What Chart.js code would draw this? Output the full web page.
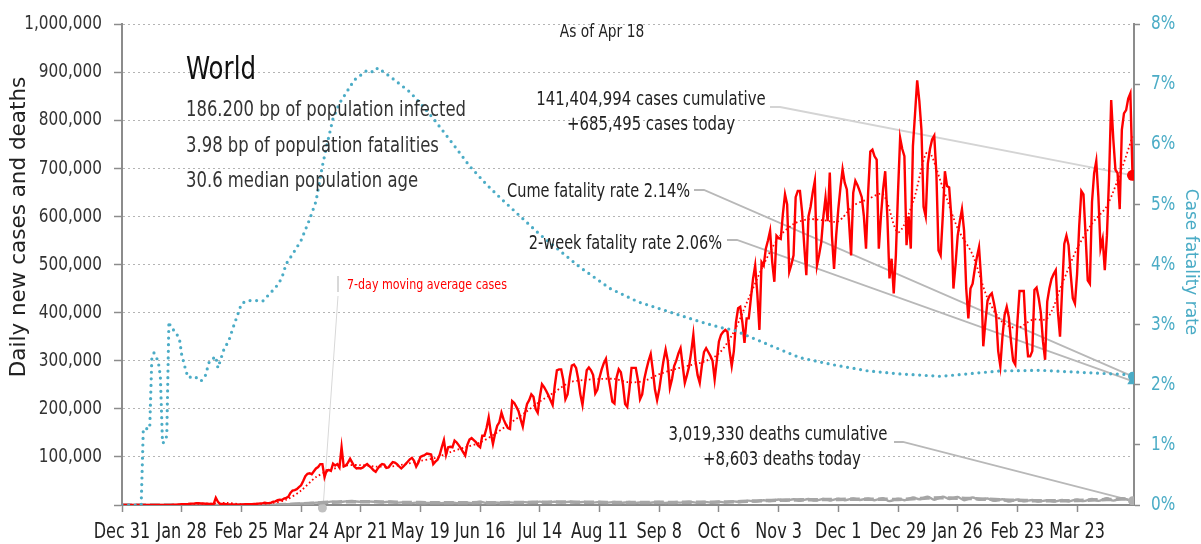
<!DOCTYPE html>
<html><head><meta charset="utf-8">
<script src="https://cdn.jsdelivr.net/npm/chart.js@4.4.0/dist/chart.umd.min.js"></script>
<style>html,body{margin:0;padding:0;background:#fff;overflow:hidden}canvas{display:block}</style>
</head><body>
<canvas id="c" width="1201" height="544"></canvas>
<script>
// ---------- DATA ----------
// x axis: days since Dec 31, 2019
const tickDays = [0,28,56,84,112,140,168,196,224,252,280,308,336,364,392,420,448];
const tickLabels = ['Dec 31','Jan 28','Feb 25','Mar 24','Apr 21','May 19','Jun 16','Jul 14','Aug 11','Sep 8','Oct 6','Nov 3','Dec 1','Dec 29','Jan 26','Feb 23','Mar 23'];

// daily new cases (thousands), one value per day from Dec 31
const casesK = [
0,0,0,0,0,0,0,0,0,0,0,0,0,0,0,0,0,0,0,0,0,
0.1,0.3,0.3,0.5,0.7,0.8,1.4,1.8,1.5,1.8,2.1,2.6,2.8,3.2,
3.9,3.7,3.2,3.4,2.7,2.6,2.1,2.0,2.0,
15.1,
6.5,2.2,2.1,2.0,1.8,0.6,1.0,0.9,0.5,0.6,0.8,
0.9,1.2,1.5,1.8,1.6,1.8,2.2,
2.5,2.9,3.5,4.0,4.6,4.0,3.9,
5,7,7.5,10,11,10.5,13.5,15,17,25,
30,31,33,37,41,50,60,65,66,64,
70,76,79,85,85,58,72,73,71,86,
82,85,78,120,80,82,88,96,88,80,
76,77,76,78,82,85,81,77,72,69,
76,82,85,84,77,78,84,89,88,85,
80,76,80,85,90,95,98,92,80,88,
100,102,104,107,106,105,85,90,94,104,
120,135,104,120,121,120,134,130,124,117,
110,103,125,136,139,135,131,124,120,144,
144,160,182,150,127,148,165,172,192,178,
168,160,158,216,212,204,195,178,163,190,
210,218,230,225,200,192,225,251,245,237,
228,218,208,248,280,282,282,260,220,230,
265,290,292,285,262,230,208,245,280,286,
280,270,232,240,265,282,295,304,270,244,
215,211,265,282,276,250,210,204,240,285,
285,285,260,220,230,262,282,300,314,280,
240,218,240,271,300,323,300,244,262,289,
300,315,326,290,254,270,288,318,354,300,
270,254,290,318,326,318,310,300,261,300,
340,354,360,364,360,320,289,320,380,409,
412,380,337,388,388,430,470,498,440,364,
505,498,533,550,570,505,464,560,555,553,
605,646,625,485,500,519,640,653,653,610,
540,478,600,620,650,674,498,520,546,600,
639,590,691,560,491,560,615,660,698,670,
656,590,519,649,674,665,653,640,600,533,
650,735,739,725,718,533,600,656,694,600,
471,512,440,519,650,763,740,725,540,600,
533,746,814,883,840,780,620,600,710,740,
760,768,690,529,519,600,694,663,660,600,
450,500,560,590,615,570,450,388,450,460,
490,515,536,470,330,380,425,435,440,420,
395,320,289,350,395,412,390,340,300,292,
380,445,445,445,360,309,309,320,447,452,
430,400,340,302,423,450,470,480,488,402,
350,450,543,560,540,480,430,419,480,580,
653,646,560,467,460,630,690,715,640,533,
553,488,560,680,842,760,697,690,615,780,
814,821,845,856,685.495
];

// 7-day moving average of cases (thousands), read weekly
const maDays = [0,21,28,35,42,49,56,63,70,77,84,91,98,105,112,119,126,133,140,147,154,161,168,175,182,189,196,203,210,217,224,231,238,245,252,259,266,273,280,287,294,301,308,315,322,329,336,343,350,357,364,371,378,385,392,399,406,413,420,427,434,441,448,455,462,469,474];
const maK = [0,0.1,0.9,2.5,2.8,4.5,1.5,1.8,4.2,11,30,58,73,82,83,80,80,85,92,98,110,120,130,148,170,192,215,235,255,260,262,262,255,258,272,282,290,298,315,360,430,500,556,584,594,592,590,622,636,646,567,629,735,660,575,520,430,380,368,385,388,460,533,585,622,700,766];

// daily deaths (thousands)
const deathDays = [0,40,63,70,77,80,84,87,91,94,98,101,105,108,112,115,119,122,126,129,133,136,140,143,147,150,154,157,161,164,168,171,175,178,182,185,189,192,196,199,203,206,210,213,217,220,224,227,231,234,238,241,245,248,252,255,259,262,266,269,273,276,280,283,287,290,294,297,301,304,308,311,315,318,322,325,329,332,336,339,343,346,350,353,357,360,364,367,371,374,378,381,385,388,392,395,399,402,406,409,413,416,420,423,427,430,434,437,441,444,448,451,455,458,462,465,469,471,474];
const deathK = [0,0.1,0.2,0.4,1.5,2,3,3.5,5,4.5,7,6,7.5,8.3,6.5,7.5,6.5,5.5,7,5,6,4,6,4.2,5.5,3.8,5.5,3.8,5.2,4,6.9,4,5.3,4.2,5.5,4.6,6,4.5,7,5,6.8,5.2,6.9,5,6.5,4.6,6.2,4.8,6.3,4.5,6.1,4.5,6,4.8,6.5,4.2,6,5,6.8,5,6.5,5.2,6.7,5.5,7.5,6,9,7,10,8,11.5,8.5,12,8.5,12.5,9,12.5,9.5,13,10,13.5,10.5,13.5,10,14,8,13,10,15.5,12,17,11,17.5,12.5,16.5,10,15.5,11,13.5,8.5,12,7,11.5,7.5,10.5,7,10,7,10.5,7.5,11.5,8,12.5,8.5,14,9,14,12,8.603];

// 7-day moving average of deaths (thousands)
const deathMaDays = [0,63,77,84,91,98,105,112,119,126,133,140,147,154,161,168,175,182,189,196,203,210,217,224,231,238,245,252,259,266,273,280,287,294,301,308,315,322,329,336,343,350,357,364,371,378,385,392,399,406,413,420,427,434,441,448,455,462,469,474];
const deathMaK = [0,0.1,0.8,2.2,4,5.8,6.8,7,6.5,6,5.3,5,4.7,4.6,4.6,5,4.8,5,5.3,5.8,6,6,5.8,5.5,5.4,5.3,5.4,5.5,5.4,5.8,5.9,6,6.6,8,9,10,10.5,11,11.2,11.6,12,12.2,12,11.5,13,14.3,15,14,13.3,12,10.5,9.8,9,8.6,8.8,9.4,10.3,11.3,12.3,12.5];

// case fatality rate (%)
const cfrDays = [0,9,10,13,14,15,17,18,19,20,21,22,23,25,27,28,30,31,34,37,39,41,44,45,46,48,50,52,55,56,59,63,66,70,73,75,77,80,84,88,91,94,96,99,102,109,112,115,118,120,126,135,140,146,156,163,171,178,196,215,229,242,271,281,287,303,318,334,350,365,384,412,431,453,471,474];
const cfrPct = [0,0,1.27,1.27,2.45,2.53,2.39,2.14,1.03,1.05,1.15,3.05,2.94,2.89,2.75,2.5,2.23,2.12,2.14,2.06,2.14,2.39,2.47,2.28,2.39,2.61,2.72,2.94,3.24,3.35,3.40,3.40,3.39,3.54,3.66,3.78,4.01,4.17,4.4,4.75,5.05,5.64,5.97,6.43,6.68,7.07,7.15,7.23,7.2,7.27,7.12,6.87,6.68,6.43,5.97,5.64,5.33,5.09,4.5,3.95,3.6,3.38,3.05,2.95,2.91,2.67,2.45,2.33,2.23,2.18,2.14,2.23,2.24,2.2,2.17,2.14];

// end-of-series values
const lastDay = 474;
const casesToday = 685495;
const casesCumulative = '141,404,994';
const deathsToday = 8603;
const deathsCumulative = '3,019,330';
const cumeCfr = 2.14;
const twoWeekCfr = 2.06;
const maLabelDay = 94;

// texts
const placeName = 'World';
const infoLines = ['186.200 bp of population infected','3.98 bp of population fatalities','30.6 median population age'];
const asOfText = 'As of Apr 18';

// ---------- CHART ----------
const FONT = "'DejaVu Sans Condensed','Liberation Sans Narrow',sans-serif";
const WIDEFONT = "'DejaVu Sans',sans-serif";
Chart.defaults.font.family = FONT;
const RED = '#ff0000', CYAN = '#4bacc6', GRAY = '#a6a6a6', AXIS = '#8c8c8c';

// horizontally condensed text rendering (reference uses a condensed face)
const canvas = document.getElementById('c');
const ctx2d = canvas.getContext('2d');
let condense = 0.85;
const origFill = ctx2d.fillText;
ctx2d.fillText = function (t, x, y, w) {
  this.save(); this.translate(x, y); this.scale(condense, 1);
  if (w === undefined) origFill.call(this, t, 0, 0); else origFill.call(this, t, 0, 0, w / condense);
  this.restore();
};

const pts = (days, vals, mul) => days.map((d, i) => ({x: d, y: vals[i] * mul}));

const annot = {
  id: 'annot',
  beforeDatasetsDraw(chart) {
    const ctx = chart.ctx, xs = chart.scales.x, ys = chart.scales.y, y2 = chart.scales.y2;
    const ex = xs.getPixelForValue(lastDay);
    const seg = (p, color, w) => {
      ctx.save(); ctx.strokeStyle = color; ctx.lineWidth = w; ctx.beginPath();
      ctx.moveTo(p[0][0], p[0][1]);
      for (let i = 1; i < p.length; i++) ctx.lineTo(p[i][0], p[i][1]);
      ctx.stroke(); ctx.restore();
    };
    seg([[770,107],[780,107],[ex, ys.getPixelForValue(casesToday)]], '#d4d4d4', 1.8);
    seg([[694,190],[704,190],[ex, y2.getPixelForValue(cumeCfr)]], '#b8b8b8', 1.8);
    seg([[727,240],[737,240],[ex, y2.getPixelForValue(twoWeekCfr)]], '#b8b8b8', 1.8);
    seg([[894,442],[903,442],[ex, ys.getPixelForValue(deathsToday)]], '#b8b8b8', 1.8);
    const mx = xs.getPixelForValue(maLabelDay);
    seg([[338,276],[338,292]], '#d8d8d8', 2);
    seg([[338,296],[mx + 1, 503]], '#d8d8d8', 1);
    ctx.save(); ctx.fillStyle = '#c0c0c0'; ctx.beginPath(); ctx.arc(mx, 508, 4.5, 0, Math.PI * 2); ctx.fill(); ctx.restore();
  },
  afterDraw(chart) {
    const ctx = chart.ctx;
    ctx.save();
    ctx.textBaseline = 'alphabetic';
    ctx.fillStyle = '#111';
    ctx.textAlign = 'left';
    ctx.font = `32px ${FONT}`;
    ctx.fillText(placeName, 186, 79);
    ctx.font = `21.5px ${FONT}`;
    ctx.fillStyle = '#333';
    [116, 152, 187].forEach((y, i) => ctx.fillText(infoLines[i], 186, y));
    ctx.fillStyle = '#222';
    ctx.textAlign = 'center';
    ctx.font = `18px ${FONT}`;
    ctx.fillText(asOfText, 602, 37);
    ctx.font = `19.5px ${FONT}`;
    ctx.fillText(casesCumulative + ' cases cumulative', 651, 105);
    ctx.fillText('+' + casesToday.toLocaleString('en-US') + ' cases today', 651, 130);
    ctx.fillText(deathsCumulative + ' deaths cumulative', 778, 440);
    ctx.fillText('+' + deathsToday.toLocaleString('en-US') + ' deaths today', 782, 465);
    ctx.textAlign = 'right';
    ctx.font = `19px ${FONT}`;
    ctx.fillText('Cume fatality rate ' + cumeCfr.toFixed(2) + '%', 690, 197);
    ctx.fillText('2-week fatality rate ' + twoWeekCfr.toFixed(2) + '%', 722, 249);
    ctx.textAlign = 'left';
    ctx.fillStyle = RED;
    ctx.font = `14.5px ${FONT}`;
    ctx.fillText('7-day moving average cases', 347, 289);
    // axis titles
    condense = 1;
    ctx.textAlign = 'center';
    ctx.fillStyle = '#222';
    ctx.font = `21.5px ${WIDEFONT}`;
    ctx.save(); ctx.translate(25, 227); ctx.rotate(-Math.PI / 2);
    ctx.fillText('Daily new cases and deaths', 0, 0); ctx.restore();
    ctx.fillStyle = CYAN;
    ctx.font = `17px ${WIDEFONT}`;
    ctx.save(); ctx.translate(1186, 262); ctx.rotate(Math.PI / 2);
    ctx.fillText('Case fatality rate', 0, 0); ctx.restore();
    condense = 0.85;
    ctx.restore();
  }
};

new Chart(ctx2d, {
  type: 'line',
  data: {
    datasets: [
      {label:'end cases', data:[{x:lastDay, y:casesToday}], showLine:false, pointRadius:5.5, pointBackgroundColor:RED, pointBorderWidth:0, yAxisID:'y', order:0},
      {label:'end cume cfr', data:[{x:lastDay, y:cumeCfr}], showLine:false, pointRadius:4.5, pointBackgroundColor:CYAN, pointBorderWidth:0, yAxisID:'y2', order:0},
      {label:'end 2wk cfr', data:[{x:lastDay, y:twoWeekCfr}], showLine:false, pointStyle:'triangle', pointRadius:6, pointBackgroundColor:CYAN, pointBorderWidth:0, yAxisID:'y2', order:0},
      {label:'end deaths', data:[{x:lastDay, y:deathsToday}], showLine:false, pointRadius:4.5, pointBackgroundColor:'#b0b0b0', pointBorderWidth:0, yAxisID:'y', order:0},
      {label:'CFR', data: pts(cfrDays, cfrPct, 1), yAxisID:'y2', borderColor:CYAN, borderWidth:3.2, borderDash:[0,6.6], borderCapStyle:'round', pointRadius:0, tension:0, order:1},
      {label:'Cases MA', data: pts(maDays, maK, 1000), yAxisID:'y', borderColor:RED, borderWidth:1.8, borderDash:[1.6,2.6], pointRadius:0, tension:0.3, order:2},
      {label:'Cases', data: casesK.map((v, i) => ({x:i, y:v * 1000})), yAxisID:'y', borderColor:RED, borderWidth:2.4, pointRadius:0, tension:0, order:3},
      {label:'Deaths MA', data: pts(deathMaDays, deathMaK, 1000), yAxisID:'y', borderColor:GRAY, borderWidth:3.5, borderDash:[10,4], pointRadius:0, tension:0.3, order:4},
      {label:'Deaths', data: pts(deathDays, deathK, 1000), yAxisID:'y', borderColor:GRAY, borderWidth:2.4, pointRadius:0, tension:0.3, order:5}
    ]
  },
  options: {
    responsive:false, animation:false, devicePixelRatio:1, events:[],
    layout:{padding:{top:20, left:0, right:0, bottom:0}},
    plugins:{legend:{display:false}, tooltip:{enabled:false}},
    scales:{
      x:{type:'linear', min:0, max:474.7,
        afterBuildTicks: s => { s.ticks = tickDays.map(v => ({value:v})); },
        afterFit: s => { s.height = 39; },
        ticks:{callback:(v, i) => tickLabels[i], font:{size:21}, color:'#222', maxRotation:0, autoSkip:false, padding:8},
        grid:{drawOnChartArea:false, drawTicks:true, tickLength:7, tickColor:AXIS, tickWidth:1.5},
        border:{display:true, color:AXIS, width:2}},
      y:{position:'left', min:0, max:1000000,
        afterFit: s => { s.width = 122; },
        ticks:{stepSize:100000, callback: v => v === 0 ? '' : v.toLocaleString('en-US'), font:{size:20}, color:'#333', padding:12},
        grid:{color:'#b4b4b4', lineWidth:1, tickLength:8, tickColor:AXIS, tickWidth:1.5, tickBorderDash:[]},
        border:{display:true, color:AXIS, width:2, dash:[2,3]}},
      y2:{position:'right', min:0, max:8,
        afterFit: s => { s.width = 67; },
        ticks:{stepSize:1, callback: v => v + '%', font:{size:20}, color:CYAN, padding:11},
        grid:{drawOnChartArea:false, tickLength:6, tickColor:AXIS, tickWidth:1.5},
        border:{display:true, color:AXIS, width:2}}
    }
  },
  plugins:[annot]
});
</script>
</body></html>
